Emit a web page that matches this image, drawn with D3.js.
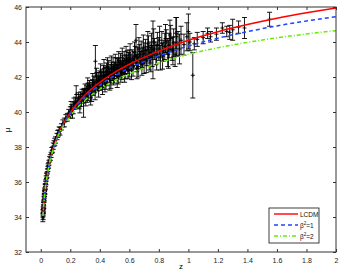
<!DOCTYPE html>
<html>
<head>
<meta charset="utf-8">
<script src="https://cdn.jsdelivr.net/npm/d3@7"></script>
<style>
  body { margin: 0; background: #fff; }
  text { font-family: "Liberation Sans", Arial, sans-serif; }
</style>
</head>
<body>
<svg id="chart" width="341" height="273"></svg>
<script>
// model curves, values
var curveZ = [0.015, 0.02, 0.05, 0.1, 0.2, 0.3, 0.4, 0.5, 0.6, 0.8, 1.0, 1.2, 1.4, 1.6, 1.8, 2.0];
var muLCDM = [34.07, 34.70, 36.70, 38.31, 39.96, 40.97, 41.69, 42.26, 42.73, 43.48, 44.10, 44.59, 45.00, 45.36, 45.67, 45.95];
var muBeta1 = [34.07, 34.70, 36.69, 38.28, 39.89, 40.86, 41.54, 42.07, 42.51, 43.20, 43.77, 44.22, 44.59, 44.92, 45.20, 45.45];
var muBeta2 = [34.06, 34.69, 36.66, 38.22, 39.76, 40.67, 41.30, 41.79, 42.18, 42.80, 43.30, 43.67, 43.98, 44.24, 44.46, 44.65];

// supernova points: redshift, distance modulus, error
var snZ = [0.014, 0.015, 0.016, 0.016, 0.017, 0.018, 0.018, 0.019, 0.02, 0.021, 0.022, 0.023, 0.024, 0.025, 0.026, 0.027, 0.028, 0.03, 0.031, 0.033,
  0.035, 0.037, 0.04, 0.042, 0.045, 0.048, 0.05, 0.053, 0.056, 0.06, 0.065, 0.07, 0.075, 0.08, 0.085, 0.09, 0.095, 0.1,
  0.11, 0.115, 0.12, 0.125, 0.13, 0.14, 0.15, 0.16, 0.17, 0.18, 0.19, 0.2, 0.2, 0.21, 0.22, 0.23, 0.235, 0.24, 0.245, 0.25,
  0.26, 0.26, 0.27, 0.275, 0.28, 0.285, 0.29, 0.295, 0.3, 0.3,
  0.31, 0.315, 0.32, 0.325, 0.33, 0.335, 0.34, 0.345, 0.35, 0.355, 0.36, 0.365, 0.37, 0.375, 0.38, 0.385, 0.39, 0.395, 0.4, 0.4,
  0.41, 0.415, 0.42, 0.425, 0.43, 0.435, 0.44, 0.445, 0.45, 0.455, 0.46, 0.465, 0.47, 0.475, 0.48, 0.485, 0.49, 0.495, 0.5, 0.5,
  0.51, 0.515, 0.52, 0.525, 0.53, 0.535, 0.54, 0.545, 0.55, 0.555, 0.56, 0.565, 0.57, 0.575, 0.58, 0.585, 0.59, 0.595, 0.6, 0.6,
  0.61, 0.62, 0.625, 0.63, 0.64, 0.645, 0.65, 0.655, 0.66, 0.67, 0.675, 0.68, 0.69, 0.7, 0.7, 0.71, 0.72, 0.73, 0.735, 0.74,
  0.75, 0.755, 0.76, 0.77, 0.78, 0.79, 0.8, 0.81, 0.82, 0.83, 0.84, 0.85, 0.86, 0.87, 0.88, 0.89, 0.9, 0.91, 0.92, 0.93, 0.95,
  0.97, 0.99, 1.0, 1.01, 1.03, 1.04, 1.06, 1.1, 1.13, 1.15, 1.19, 1.23, 1.26, 1.28, 1.3, 1.34, 1.38, 1.55,
  0.205, 0.215, 0.225, 0.255, 0.265, 0.305, 0.318, 0.338, 0.352, 0.368, 0.378, 0.392, 0.405, 0.418, 0.428, 0.442,
  0.452, 0.468, 0.478, 0.492, 0.505, 0.518, 0.528, 0.542, 0.552, 0.568, 0.578, 0.592, 0.605, 0.615, 0.635, 0.652,
  0.665, 0.685, 0.695, 0.715, 0.725, 0.745, 0.765, 0.785, 0.805, 0.825, 0.845, 0.865, 0.875, 0.895, 0.915, 0.94];
var snMu = [33.95, 34.2, 34.25, 34.05, 34.4, 34.5, 34.35, 34.65, 34.8, 34.7, 35.0, 35.1, 35.2, 35.35, 35.3, 35.5, 35.45, 35.7, 35.75, 35.9,
  36.0, 36.2, 36.35, 36.4, 36.6, 36.75, 36.9, 36.95, 37.1, 37.3, 37.4, 37.55, 37.8, 37.85, 38.05, 38.2, 38.3, 38.4,
  38.6, 38.75, 38.8, 38.95, 38.9, 39.15, 39.35, 39.4, 39.65, 39.7, 39.95, 40.05, 39.85, 40.2, 40.15, 40.35, 40.6, 41.0, 40.45, 40.55,
  40.7, 40.4, 40.9, 40.6, 41.0, 40.8, 40.5, 41.1, 40.95, 41.3,
  41.2, 40.9, 41.35, 41.05, 41.5, 41.2, 41.4, 41.0, 41.55, 41.3, 41.7, 41.45, 42.9, 41.6, 41.85, 41.5, 41.9, 41.65, 42.0, 41.55,
  41.85, 42.1, 41.7, 42.25, 41.95, 41.6, 42.15, 42.35, 41.9, 42.2, 42.5, 42.05, 42.3, 41.8, 42.45, 42.15, 42.6, 42.3, 42.1, 42.45,
  42.65, 42.3, 42.55, 42.05, 42.7, 42.4, 42.85, 42.5, 42.3, 42.75, 42.55, 42.95, 42.6, 42.4, 42.8, 43.0, 42.65, 42.9, 42.5, 43.1,
  42.8, 43.05, 42.6, 42.95, 43.2, 44.1, 42.8, 43.1, 42.6, 43.3, 42.95, 43.45, 43.1, 43.35, 42.85, 43.55, 43.2, 43.7, 43.0, 43.4,
  43.8, 43.2, 43.55, 43.6, 43.35, 43.85, 43.6, 43.1, 43.9, 43.5, 43.75, 44.0, 43.4, 43.8, 44.2, 43.6, 43.95, 43.3, 44.3, 43.9, 44.1,
  43.85, 44.3, 44.6, 44.0, 42.1, 43.9, 44.15, 44.25, 44.5, 44.3, 44.45, 44.8, 44.6, 44.55, 44.7, 44.85, 44.8, 45.3,
  40.3, 39.9, 40.5, 40.8, 40.3, 40.7, 41.6, 40.8, 41.8, 41.1, 42.1, 41.3, 42.3, 41.4, 42.5, 41.7,
  42.6, 41.7, 42.7, 42.0, 42.8, 41.9, 42.95, 42.2, 43.1, 42.2, 43.2, 42.4, 43.3, 42.4, 43.4, 42.5,
  43.6, 42.7, 43.7, 42.9, 43.9, 43.0, 44.0, 43.1, 44.1, 43.2, 44.2, 43.3, 44.4, 43.5, 44.5, 43.6];
var snErr = [0.22, 0.2, 0.18, 0.2, 0.18, 0.2, 0.17, 0.18, 0.17, 0.2, 0.16, 0.17, 0.16, 0.17, 0.15, 0.16, 0.15, 0.15, 0.16, 0.15,
  0.15, 0.15, 0.14, 0.15, 0.14, 0.15, 0.14, 0.15, 0.14, 0.15, 0.16, 0.15, 0.17, 0.15, 0.18, 0.16, 0.2, 0.18,
  0.18, 0.2, 0.17, 0.2, 0.22, 0.18, 0.2, 0.25, 0.2, 0.22, 0.2, 0.25, 0.2, 0.22, 0.25, 0.2, 0.25, 0.5, 0.22, 0.25,
  0.3, 0.22, 0.25, 0.28, 0.3, 0.25, 0.8, 0.25, 0.28, 0.3,
  0.3, 0.35, 0.3, 0.4, 0.3, 0.35, 0.3, 0.4, 0.3, 0.35, 0.35, 0.3, 0.9, 0.35, 0.4, 0.3, 0.35, 0.4, 0.35, 0.3,
  0.4, 0.35, 0.4, 0.4, 0.35, 0.45, 0.4, 0.45, 0.4, 0.35, 0.45, 0.4, 0.4, 0.45, 0.4, 0.35, 0.5, 0.4, 0.45, 0.4,
  0.45, 0.4, 0.5, 0.45, 0.4, 0.45, 0.5, 0.4, 0.45, 0.5, 0.4, 0.5, 0.45, 0.5, 0.45, 0.5, 0.45, 0.5, 0.5, 0.45,
  0.45, 0.5, 0.55, 0.5, 0.55, 0.9, 0.5, 0.6, 0.6, 0.55, 0.5, 0.6, 0.55, 0.6, 0.65, 0.6, 0.55, 0.65, 0.6, 0.6,
  0.7, 0.6, 1.65, 0.6, 0.65, 0.7, 0.65, 0.7, 0.7, 0.6, 0.75, 0.7, 0.8, 0.7, 0.75, 0.65, 0.8, 0.7, 1.1, 0.7, 0.8,
  0.6, 0.8, 1.0, 0.5, 1.3, 0.35, 0.4, 0.35, 0.3, 0.3, 0.35, 0.3, 0.3, 0.4, 0.6, 0.35, 0.6, 0.4,
  0.3, 0.25, 0.3, 0.3, 0.35, 0.35, 0.35, 0.4, 0.4, 0.4, 0.4, 0.45, 0.45, 0.4, 0.5, 0.4,
  0.5, 0.45, 0.5, 0.45, 0.5, 0.5, 0.5, 0.5, 0.55, 0.5, 0.55, 0.5, 0.6, 0.55, 0.6, 0.6,
  0.65, 0.6, 0.7, 0.65, 0.7, 0.7, 0.75, 0.7, 0.8, 0.75, 0.8, 0.8, 0.85, 0.8, 0.9, 0.85];

var xTicks = [0, 0.2, 0.4, 0.6, 0.8, 1, 1.2, 1.4, 1.6, 1.8, 2];
var yTicks = [32, 34, 36, 38, 40, 42, 44, 46];

var svg = d3.select("#chart");
var plotLeft = 26, plotRight = 336, plotTop = 7, plotBottom = 252;

var x = d3.scaleLinear().domain([-0.1, 2]).range([plotLeft, plotRight]);
var y = d3.scaleLinear().domain([32, 46]).range([plotBottom, plotTop]);

var plot = svg.append("g");
plot.append("clipPath").attr("id", "clip")
  .append("rect").attr("x", plotLeft).attr("y", plotTop)
  .attr("width", plotRight - plotLeft).attr("height", plotBottom - plotTop);

// error bars
var sn = snZ.map(function (z, i) { return { z: z, mu: snMu[i], err: snErr[i] }; });
var bars = plot.append("g").attr("clip-path", "url(#clip)")
  .attr("stroke", "#000").attr("stroke-width", 0.9).attr("fill", "none");
bars.selectAll("path.bar").data(sn).enter().append("path")
  .attr("class", "bar")
  .attr("d", function (d) {
    var cx = x(d.z), y0 = y(d.mu - d.err), y1 = y(d.mu + d.err);
    return "M" + cx + "," + y0 + "V" + y1 +
      "M" + (cx - 2.5) + "," + y0 + "H" + (cx + 2.5) +
      "M" + (cx - 2.5) + "," + y1 + "H" + (cx + 2.5);
  });
bars.selectAll("path.mark").data(sn).enter().append("path")
  .attr("class", "mark")
  .attr("d", function (d) {
    var cx = x(d.z), cy = y(d.mu);
    return "M" + (cx - 2) + "," + cy + "H" + (cx + 2) + "M" + cx + "," + (cy - 2) + "V" + (cy + 2);
  });

// model lines
var line = d3.line().curve(d3.curveMonotoneX)
  .x(function (d) { return x(d[0]); })
  .y(function (d) { return y(d[1]); });

var models = [
  { name: "LCDM", mu: muLCDM, color: "#ff0000", dash: null },
  { name: "b1", mu: muBeta1, color: "#2244ff", dash: "4,3" },
  { name: "b2", mu: muBeta2, color: "#66ee00", dash: "4,2,1,2" }
];
var lines = plot.append("g").attr("clip-path", "url(#clip)");
models.forEach(function (m) {
  lines.append("path")
    .datum(curveZ.map(function (z, i) { return [z, m.mu[i]]; }))
    .attr("d", line)
    .attr("fill", "none")
    .attr("stroke", m.color)
    .attr("stroke-width", 1.5)
    .attr("stroke-dasharray", m.dash);
});

// axes box
var axisColor = "#333";
svg.append("rect").attr("x", plotLeft).attr("y", plotTop)
  .attr("width", plotRight - plotLeft).attr("height", plotBottom - plotTop)
  .attr("fill", "none").attr("stroke", axisColor).attr("stroke-width", 1);

svg.append("g").attr("transform", "translate(0," + plotBottom + ")")
  .call(d3.axisBottom(x).tickValues(xTicks).tickSizeInner(-3).tickSizeOuter(0).tickPadding(6)
    .tickFormat(d3.format("~g")));
svg.append("g").attr("transform", "translate(0," + plotTop + ")")
  .call(d3.axisTop(x).tickValues(xTicks).tickSizeInner(-3).tickSizeOuter(0).tickFormat(""));
svg.append("g").attr("transform", "translate(" + plotLeft + ",0)")
  .call(d3.axisLeft(y).tickValues(yTicks).tickSizeInner(-3).tickSizeOuter(0).tickPadding(4));
svg.append("g").attr("transform", "translate(" + plotRight + ",0)")
  .call(d3.axisRight(y).tickValues(yTicks).tickSizeInner(-3).tickSizeOuter(0).tickFormat(""));

svg.selectAll(".domain").remove();
svg.selectAll(".tick line").attr("stroke", axisColor);
svg.selectAll(".tick text").attr("font-size", 7).attr("fill", "#222");

// axis labels
svg.append("text").attr("x", 181).attr("y", 269).attr("text-anchor", "middle")
  .attr("font-size", 8).text("z");
svg.append("text").attr("transform", "translate(10,130) rotate(-90)").attr("text-anchor", "middle")
  .attr("font-size", 8).text("μ");

// legend
var lg = svg.append("g").attr("transform", "translate(269,208)");
lg.append("rect").attr("width", 50).attr("height", 35).attr("fill", "#fff")
  .attr("stroke", "#111").attr("stroke-width", 0.8);
var legendLabels = [["LCDM", null], ["β", "=1"], ["β", "=2"]];
models.forEach(function (m, i) {
  var ly = 6 + i * 11;
  lg.append("line").attr("x1", 5).attr("x2", 29).attr("y1", ly).attr("y2", ly)
    .attr("stroke", m.color).attr("stroke-width", 1.4).attr("stroke-dasharray", m.dash);
  var t = lg.append("text").attr("x", 31).attr("y", ly + 2.5).attr("font-size", 6.5).attr("fill", "#111");
  if (legendLabels[i][1] === null) {
    t.text(legendLabels[i][0]);
  } else {
    t.append("tspan").text(legendLabels[i][0]);
    t.append("tspan").attr("font-size", 4.5).attr("dy", -2.5).text("2");
    t.append("tspan").attr("dy", 2.5).text(legendLabels[i][1]);
  }
});
</script>
</body>
</html>
